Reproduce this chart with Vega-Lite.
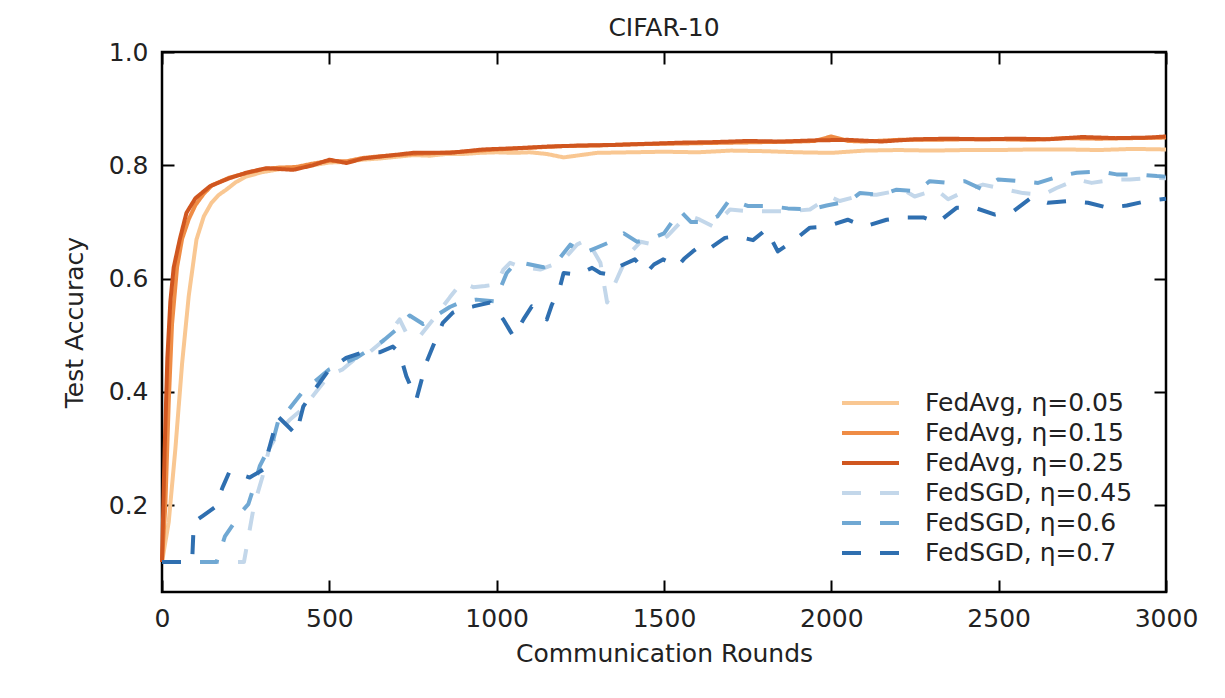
{
  "$schema": "https://vega.github.io/schema/vega-lite/v6.json",
  "width": 1004,
  "height": 540,
  "autosize": {"type": "none"},
  "padding": {"left": 162, "top": 52, "right": 59, "bottom": 106},
  "background": "#ffffff",
  "title": {"text": "CIFAR-10", "font": "DejaVu Sans", "fontSize": 25, "fontWeight": "normal", "color": "#222222", "anchor": "middle", "baseline": "alphabetic", "offset": -21},
  "config": {
    "view": {"stroke": "#000000", "strokeWidth": 2.5},
    "axis": {"domain": false, "grid": false, "tickColor": "#000000", "tickWidth": 2, "tickSize": -12, "labelFont": "DejaVu Sans", "labelFontSize": 25, "labelColor": "#222222", "titleFont": "DejaVu Sans", "titleFontSize": 25, "titleFontWeight": "normal", "titleColor": "#222222"},
    "legend": {"orient": "none", "legendX": 678, "legendY": 336, "symbolType": "stroke", "symbolSize": 3249, "symbolStrokeWidth": 4, "labelFont": "DejaVu Sans", "labelFontSize": 25, "labelColor": "#222222", "labelOffset": 24, "labelLimit": 0, "rowPadding": 0, "clipHeight": 30, "padding": 0}
  },
  "data": {"values": [
    {"s":"FedAvg, η=0.05","r":0,"a":0.1},{"s":"FedAvg, η=0.05","r":20,"a":0.17},{"s":"FedAvg, η=0.05","r":40,"a":0.3},{"s":"FedAvg, η=0.05","r":60,"a":0.45},{"s":"FedAvg, η=0.05","r":80,"a":0.57},{"s":"FedAvg, η=0.05","r":103,"a":0.669},{"s":"FedAvg, η=0.05","r":125,"a":0.71},{"s":"FedAvg, η=0.05","r":148,"a":0.734},{"s":"FedAvg, η=0.05","r":170,"a":0.748},{"s":"FedAvg, η=0.05","r":192,"a":0.757},{"s":"FedAvg, η=0.05","r":220,"a":0.77},{"s":"FedAvg, η=0.05","r":250,"a":0.78},{"s":"FedAvg, η=0.05","r":300,"a":0.788},{"s":"FedAvg, η=0.05","r":350,"a":0.793},{"s":"FedAvg, η=0.05","r":400,"a":0.795},{"s":"FedAvg, η=0.05","r":450,"a":0.8},{"s":"FedAvg, η=0.05","r":500,"a":0.805},{"s":"FedAvg, η=0.05","r":550,"a":0.806},{"s":"FedAvg, η=0.05","r":600,"a":0.81},{"s":"FedAvg, η=0.05","r":650,"a":0.812},{"s":"FedAvg, η=0.05","r":700,"a":0.815},{"s":"FedAvg, η=0.05","r":750,"a":0.818},{"s":"FedAvg, η=0.05","r":800,"a":0.817},{"s":"FedAvg, η=0.05","r":850,"a":0.82},{"s":"FedAvg, η=0.05","r":900,"a":0.82},{"s":"FedAvg, η=0.05","r":950,"a":0.822},{"s":"FedAvg, η=0.05","r":1000,"a":0.823},{"s":"FedAvg, η=0.05","r":1050,"a":0.822},{"s":"FedAvg, η=0.05","r":1100,"a":0.823},{"s":"FedAvg, η=0.05","r":1150,"a":0.82},{"s":"FedAvg, η=0.05","r":1200,"a":0.814},{"s":"FedAvg, η=0.05","r":1250,"a":0.818},{"s":"FedAvg, η=0.05","r":1300,"a":0.822},{"s":"FedAvg, η=0.05","r":1400,"a":0.823},{"s":"FedAvg, η=0.05","r":1500,"a":0.824},{"s":"FedAvg, η=0.05","r":1600,"a":0.823},{"s":"FedAvg, η=0.05","r":1700,"a":0.826},{"s":"FedAvg, η=0.05","r":1800,"a":0.825},{"s":"FedAvg, η=0.05","r":1900,"a":0.823},{"s":"FedAvg, η=0.05","r":2000,"a":0.822},{"s":"FedAvg, η=0.05","r":2100,"a":0.826},{"s":"FedAvg, η=0.05","r":2200,"a":0.827},{"s":"FedAvg, η=0.05","r":2300,"a":0.826},{"s":"FedAvg, η=0.05","r":2400,"a":0.827},{"s":"FedAvg, η=0.05","r":2500,"a":0.827},{"s":"FedAvg, η=0.05","r":2600,"a":0.828},{"s":"FedAvg, η=0.05","r":2700,"a":0.828},{"s":"FedAvg, η=0.05","r":2800,"a":0.827},{"s":"FedAvg, η=0.05","r":2900,"a":0.829},{"s":"FedAvg, η=0.05","r":3000,"a":0.828},
    {"s":"FedAvg, η=0.15","r":0,"a":0.1},{"s":"FedAvg, η=0.15","r":10,"a":0.2},{"s":"FedAvg, η=0.15","r":20,"a":0.38},{"s":"FedAvg, η=0.15","r":30,"a":0.52},{"s":"FedAvg, η=0.15","r":45,"a":0.62},{"s":"FedAvg, η=0.15","r":60,"a":0.67},{"s":"FedAvg, η=0.15","r":80,"a":0.705},{"s":"FedAvg, η=0.15","r":100,"a":0.73},{"s":"FedAvg, η=0.15","r":125,"a":0.75},{"s":"FedAvg, η=0.15","r":150,"a":0.765},{"s":"FedAvg, η=0.15","r":200,"a":0.778},{"s":"FedAvg, η=0.15","r":250,"a":0.786},{"s":"FedAvg, η=0.15","r":300,"a":0.793},{"s":"FedAvg, η=0.15","r":350,"a":0.796},{"s":"FedAvg, η=0.15","r":400,"a":0.797},{"s":"FedAvg, η=0.15","r":450,"a":0.803},{"s":"FedAvg, η=0.15","r":500,"a":0.808},{"s":"FedAvg, η=0.15","r":550,"a":0.807},{"s":"FedAvg, η=0.15","r":600,"a":0.813},{"s":"FedAvg, η=0.15","r":650,"a":0.816},{"s":"FedAvg, η=0.15","r":700,"a":0.818},{"s":"FedAvg, η=0.15","r":750,"a":0.82},{"s":"FedAvg, η=0.15","r":800,"a":0.821},{"s":"FedAvg, η=0.15","r":900,"a":0.824},{"s":"FedAvg, η=0.15","r":1000,"a":0.828},{"s":"FedAvg, η=0.15","r":1100,"a":0.831},{"s":"FedAvg, η=0.15","r":1200,"a":0.834},{"s":"FedAvg, η=0.15","r":1300,"a":0.835},{"s":"FedAvg, η=0.15","r":1400,"a":0.837},{"s":"FedAvg, η=0.15","r":1500,"a":0.838},{"s":"FedAvg, η=0.15","r":1600,"a":0.839},{"s":"FedAvg, η=0.15","r":1700,"a":0.84},{"s":"FedAvg, η=0.15","r":1800,"a":0.841},{"s":"FedAvg, η=0.15","r":1900,"a":0.842},{"s":"FedAvg, η=0.15","r":1950,"a":0.843},{"s":"FedAvg, η=0.15","r":2000,"a":0.851},{"s":"FedAvg, η=0.15","r":2050,"a":0.843},{"s":"FedAvg, η=0.15","r":2100,"a":0.842},{"s":"FedAvg, η=0.15","r":2200,"a":0.845},{"s":"FedAvg, η=0.15","r":2300,"a":0.845},{"s":"FedAvg, η=0.15","r":2400,"a":0.846},{"s":"FedAvg, η=0.15","r":2500,"a":0.846},{"s":"FedAvg, η=0.15","r":2600,"a":0.845},{"s":"FedAvg, η=0.15","r":2700,"a":0.848},{"s":"FedAvg, η=0.15","r":2800,"a":0.847},{"s":"FedAvg, η=0.15","r":2900,"a":0.848},{"s":"FedAvg, η=0.15","r":3000,"a":0.849},
    {"s":"FedAvg, η=0.25","r":0,"a":0.1},{"s":"FedAvg, η=0.25","r":8,"a":0.3},{"s":"FedAvg, η=0.25","r":16,"a":0.46},{"s":"FedAvg, η=0.25","r":25,"a":0.56},{"s":"FedAvg, η=0.25","r":35,"a":0.62},{"s":"FedAvg, η=0.25","r":53,"a":0.669},{"s":"FedAvg, η=0.25","r":73,"a":0.716},{"s":"FedAvg, η=0.25","r":100,"a":0.742},{"s":"FedAvg, η=0.25","r":143,"a":0.763},{"s":"FedAvg, η=0.25","r":200,"a":0.777},{"s":"FedAvg, η=0.25","r":252,"a":0.787},{"s":"FedAvg, η=0.25","r":312,"a":0.795},{"s":"FedAvg, η=0.25","r":392,"a":0.792},{"s":"FedAvg, η=0.25","r":450,"a":0.8},{"s":"FedAvg, η=0.25","r":501,"a":0.81},{"s":"FedAvg, η=0.25","r":551,"a":0.804},{"s":"FedAvg, η=0.25","r":600,"a":0.812},{"s":"FedAvg, η=0.25","r":660,"a":0.816},{"s":"FedAvg, η=0.25","r":750,"a":0.822},{"s":"FedAvg, η=0.25","r":860,"a":0.822},{"s":"FedAvg, η=0.25","r":959,"a":0.828},{"s":"FedAvg, η=0.25","r":1050,"a":0.83},{"s":"FedAvg, η=0.25","r":1150,"a":0.833},{"s":"FedAvg, η=0.25","r":1250,"a":0.835},{"s":"FedAvg, η=0.25","r":1350,"a":0.836},{"s":"FedAvg, η=0.25","r":1450,"a":0.838},{"s":"FedAvg, η=0.25","r":1550,"a":0.84},{"s":"FedAvg, η=0.25","r":1650,"a":0.841},{"s":"FedAvg, η=0.25","r":1750,"a":0.843},{"s":"FedAvg, η=0.25","r":1850,"a":0.842},{"s":"FedAvg, η=0.25","r":1950,"a":0.844},{"s":"FedAvg, η=0.25","r":2050,"a":0.845},{"s":"FedAvg, η=0.25","r":2150,"a":0.842},{"s":"FedAvg, η=0.25","r":2250,"a":0.846},{"s":"FedAvg, η=0.25","r":2350,"a":0.847},{"s":"FedAvg, η=0.25","r":2450,"a":0.846},{"s":"FedAvg, η=0.25","r":2550,"a":0.847},{"s":"FedAvg, η=0.25","r":2650,"a":0.846},{"s":"FedAvg, η=0.25","r":2750,"a":0.85},{"s":"FedAvg, η=0.25","r":2850,"a":0.848},{"s":"FedAvg, η=0.25","r":2950,"a":0.849},{"s":"FedAvg, η=0.25","r":3000,"a":0.851},
    {"s":"FedSGD, η=0.45","r":0,"a":0.1},{"s":"FedSGD, η=0.45","r":100,"a":0.1},{"s":"FedSGD, η=0.45","r":200,"a":0.1},{"s":"FedSGD, η=0.45","r":245,"a":0.1},{"s":"FedSGD, η=0.45","r":260,"a":0.15},{"s":"FedSGD, η=0.45","r":275,"a":0.2},{"s":"FedSGD, η=0.45","r":300,"a":0.25},{"s":"FedSGD, η=0.45","r":320,"a":0.3},{"s":"FedSGD, η=0.45","r":350,"a":0.33},{"s":"FedSGD, η=0.45","r":380,"a":0.35},{"s":"FedSGD, η=0.45","r":420,"a":0.37},{"s":"FedSGD, η=0.45","r":460,"a":0.4},{"s":"FedSGD, η=0.45","r":500,"a":0.43},{"s":"FedSGD, η=0.45","r":540,"a":0.44},{"s":"FedSGD, η=0.45","r":580,"a":0.46},{"s":"FedSGD, η=0.45","r":620,"a":0.47},{"s":"FedSGD, η=0.45","r":660,"a":0.49},{"s":"FedSGD, η=0.45","r":710,"a":0.528},{"s":"FedSGD, η=0.45","r":735,"a":0.498},{"s":"FedSGD, η=0.45","r":770,"a":0.498},{"s":"FedSGD, η=0.45","r":810,"a":0.528},{"s":"FedSGD, η=0.45","r":860,"a":0.567},{"s":"FedSGD, η=0.45","r":895,"a":0.593},{"s":"FedSGD, η=0.45","r":930,"a":0.585},{"s":"FedSGD, η=0.45","r":965,"a":0.587},{"s":"FedSGD, η=0.45","r":1000,"a":0.59},{"s":"FedSGD, η=0.45","r":1020,"a":0.616},{"s":"FedSGD, η=0.45","r":1040,"a":0.628},{"s":"FedSGD, η=0.45","r":1065,"a":0.622},{"s":"FedSGD, η=0.45","r":1130,"a":0.616},{"s":"FedSGD, η=0.45","r":1170,"a":0.625},{"s":"FedSGD, η=0.45","r":1210,"a":0.64},{"s":"FedSGD, η=0.45","r":1240,"a":0.66},{"s":"FedSGD, η=0.45","r":1270,"a":0.669},{"s":"FedSGD, η=0.45","r":1310,"a":0.628},{"s":"FedSGD, η=0.45","r":1330,"a":0.558},{"s":"FedSGD, η=0.45","r":1350,"a":0.587},{"s":"FedSGD, η=0.45","r":1390,"a":0.64},{"s":"FedSGD, η=0.45","r":1430,"a":0.665},{"s":"FedSGD, η=0.45","r":1470,"a":0.66},{"s":"FedSGD, η=0.45","r":1510,"a":0.675},{"s":"FedSGD, η=0.45","r":1550,"a":0.7},{"s":"FedSGD, η=0.45","r":1580,"a":0.71},{"s":"FedSGD, η=0.45","r":1607,"a":0.704},{"s":"FedSGD, η=0.45","r":1647,"a":0.692},{"s":"FedSGD, η=0.45","r":1697,"a":0.722},{"s":"FedSGD, η=0.45","r":1756,"a":0.719},{"s":"FedSGD, η=0.45","r":1816,"a":0.719},{"s":"FedSGD, η=0.45","r":1876,"a":0.719},{"s":"FedSGD, η=0.45","r":1936,"a":0.722},{"s":"FedSGD, η=0.45","r":1995,"a":0.745},{"s":"FedSGD, η=0.45","r":2025,"a":0.737},{"s":"FedSGD, η=0.45","r":2094,"a":0.748},{"s":"FedSGD, η=0.45","r":2135,"a":0.748},{"s":"FedSGD, η=0.45","r":2214,"a":0.757},{"s":"FedSGD, η=0.45","r":2249,"a":0.745},{"s":"FedSGD, η=0.45","r":2314,"a":0.757},{"s":"FedSGD, η=0.45","r":2349,"a":0.74},{"s":"FedSGD, η=0.45","r":2408,"a":0.757},{"s":"FedSGD, η=0.45","r":2453,"a":0.766},{"s":"FedSGD, η=0.45","r":2523,"a":0.757},{"s":"FedSGD, η=0.45","r":2573,"a":0.751},{"s":"FedSGD, η=0.45","r":2633,"a":0.748},{"s":"FedSGD, η=0.45","r":2673,"a":0.76},{"s":"FedSGD, η=0.45","r":2733,"a":0.775},{"s":"FedSGD, η=0.45","r":2778,"a":0.769},{"s":"FedSGD, η=0.45","r":2842,"a":0.775},{"s":"FedSGD, η=0.45","r":2892,"a":0.775},{"s":"FedSGD, η=0.45","r":2961,"a":0.778},{"s":"FedSGD, η=0.45","r":3000,"a":0.777},
    {"s":"FedSGD, η=0.6","r":0,"a":0.1},{"s":"FedSGD, η=0.6","r":100,"a":0.1},{"s":"FedSGD, η=0.6","r":163,"a":0.1},{"s":"FedSGD, η=0.6","r":188,"a":0.145},{"s":"FedSGD, η=0.6","r":217,"a":0.17},{"s":"FedSGD, η=0.6","r":240,"a":0.19},{"s":"FedSGD, η=0.6","r":258,"a":0.202},{"s":"FedSGD, η=0.6","r":272,"a":0.228},{"s":"FedSGD, η=0.6","r":292,"a":0.269},{"s":"FedSGD, η=0.6","r":310,"a":0.29},{"s":"FedSGD, η=0.6","r":330,"a":0.31},{"s":"FedSGD, η=0.6","r":352,"a":0.36},{"s":"FedSGD, η=0.6","r":380,"a":0.37},{"s":"FedSGD, η=0.6","r":420,"a":0.4},{"s":"FedSGD, η=0.6","r":460,"a":0.42},{"s":"FedSGD, η=0.6","r":500,"a":0.44},{"s":"FedSGD, η=0.6","r":540,"a":0.45},{"s":"FedSGD, η=0.6","r":580,"a":0.46},{"s":"FedSGD, η=0.6","r":620,"a":0.475},{"s":"FedSGD, η=0.6","r":660,"a":0.49},{"s":"FedSGD, η=0.6","r":700,"a":0.51},{"s":"FedSGD, η=0.6","r":740,"a":0.535},{"s":"FedSGD, η=0.6","r":780,"a":0.52},{"s":"FedSGD, η=0.6","r":820,"a":0.535},{"s":"FedSGD, η=0.6","r":860,"a":0.55},{"s":"FedSGD, η=0.6","r":900,"a":0.56},{"s":"FedSGD, η=0.6","r":940,"a":0.563},{"s":"FedSGD, η=0.6","r":995,"a":0.56},{"s":"FedSGD, η=0.6","r":1030,"a":0.61},{"s":"FedSGD, η=0.6","r":1060,"a":0.63},{"s":"FedSGD, η=0.6","r":1100,"a":0.625},{"s":"FedSGD, η=0.6","r":1140,"a":0.62},{"s":"FedSGD, η=0.6","r":1180,"a":0.63},{"s":"FedSGD, η=0.6","r":1220,"a":0.66},{"s":"FedSGD, η=0.6","r":1260,"a":0.645},{"s":"FedSGD, η=0.6","r":1300,"a":0.655},{"s":"FedSGD, η=0.6","r":1340,"a":0.665},{"s":"FedSGD, η=0.6","r":1380,"a":0.68},{"s":"FedSGD, η=0.6","r":1420,"a":0.665},{"s":"FedSGD, η=0.6","r":1460,"a":0.67},{"s":"FedSGD, η=0.6","r":1500,"a":0.68},{"s":"FedSGD, η=0.6","r":1548,"a":0.72},{"s":"FedSGD, η=0.6","r":1580,"a":0.7},{"s":"FedSGD, η=0.6","r":1620,"a":0.7},{"s":"FedSGD, η=0.6","r":1660,"a":0.71},{"s":"FedSGD, η=0.6","r":1697,"a":0.74},{"s":"FedSGD, η=0.6","r":1752,"a":0.728},{"s":"FedSGD, η=0.6","r":1816,"a":0.728},{"s":"FedSGD, η=0.6","r":1870,"a":0.724},{"s":"FedSGD, η=0.6","r":1936,"a":0.722},{"s":"FedSGD, η=0.6","r":1986,"a":0.729},{"s":"FedSGD, η=0.6","r":2055,"a":0.737},{"s":"FedSGD, η=0.6","r":2085,"a":0.751},{"s":"FedSGD, η=0.6","r":2150,"a":0.748},{"s":"FedSGD, η=0.6","r":2195,"a":0.757},{"s":"FedSGD, η=0.6","r":2255,"a":0.754},{"s":"FedSGD, η=0.6","r":2294,"a":0.772},{"s":"FedSGD, η=0.6","r":2349,"a":0.769},{"s":"FedSGD, η=0.6","r":2399,"a":0.772},{"s":"FedSGD, η=0.6","r":2453,"a":0.757},{"s":"FedSGD, η=0.6","r":2498,"a":0.775},{"s":"FedSGD, η=0.6","r":2568,"a":0.772},{"s":"FedSGD, η=0.6","r":2618,"a":0.769},{"s":"FedSGD, η=0.6","r":2683,"a":0.781},{"s":"FedSGD, η=0.6","r":2733,"a":0.787},{"s":"FedSGD, η=0.6","r":2803,"a":0.789},{"s":"FedSGD, η=0.6","r":2852,"a":0.784},{"s":"FedSGD, η=0.6","r":2916,"a":0.784},{"s":"FedSGD, η=0.6","r":2973,"a":0.781},{"s":"FedSGD, η=0.6","r":3000,"a":0.78},
    {"s":"FedSGD, η=0.7","r":0,"a":0.1},{"s":"FedSGD, η=0.7","r":50,"a":0.1},{"s":"FedSGD, η=0.7","r":90,"a":0.1},{"s":"FedSGD, η=0.7","r":95,"a":0.17},{"s":"FedSGD, η=0.7","r":121,"a":0.181},{"s":"FedSGD, η=0.7","r":157,"a":0.196},{"s":"FedSGD, η=0.7","r":182,"a":0.233},{"s":"FedSGD, η=0.7","r":202,"a":0.26},{"s":"FedSGD, η=0.7","r":230,"a":0.255},{"s":"FedSGD, η=0.7","r":262,"a":0.249},{"s":"FedSGD, η=0.7","r":302,"a":0.263},{"s":"FedSGD, η=0.7","r":322,"a":0.304},{"s":"FedSGD, η=0.7","r":346,"a":0.357},{"s":"FedSGD, η=0.7","r":377,"a":0.339},{"s":"FedSGD, η=0.7","r":401,"a":0.325},{"s":"FedSGD, η=0.7","r":422,"a":0.374},{"s":"FedSGD, η=0.7","r":451,"a":0.4},{"s":"FedSGD, η=0.7","r":500,"a":0.44},{"s":"FedSGD, η=0.7","r":550,"a":0.46},{"s":"FedSGD, η=0.7","r":600,"a":0.47},{"s":"FedSGD, η=0.7","r":650,"a":0.47},{"s":"FedSGD, η=0.7","r":690,"a":0.48},{"s":"FedSGD, η=0.7","r":710,"a":0.469},{"s":"FedSGD, η=0.7","r":730,"a":0.428},{"s":"FedSGD, η=0.7","r":760,"a":0.387},{"s":"FedSGD, η=0.7","r":790,"a":0.452},{"s":"FedSGD, η=0.7","r":810,"a":0.481},{"s":"FedSGD, η=0.7","r":839,"a":0.522},{"s":"FedSGD, η=0.7","r":869,"a":0.54},{"s":"FedSGD, η=0.7","r":900,"a":0.548},{"s":"FedSGD, η=0.7","r":930,"a":0.551},{"s":"FedSGD, η=0.7","r":980,"a":0.558},{"s":"FedSGD, η=0.7","r":1020,"a":0.528},{"s":"FedSGD, η=0.7","r":1050,"a":0.498},{"s":"FedSGD, η=0.7","r":1080,"a":0.528},{"s":"FedSGD, η=0.7","r":1105,"a":0.551},{"s":"FedSGD, η=0.7","r":1130,"a":0.54},{"s":"FedSGD, η=0.7","r":1150,"a":0.528},{"s":"FedSGD, η=0.7","r":1165,"a":0.554},{"s":"FedSGD, η=0.7","r":1190,"a":0.587},{"s":"FedSGD, η=0.7","r":1200,"a":0.61},{"s":"FedSGD, η=0.7","r":1240,"a":0.607},{"s":"FedSGD, η=0.7","r":1285,"a":0.619},{"s":"FedSGD, η=0.7","r":1310,"a":0.61},{"s":"FedSGD, η=0.7","r":1338,"a":0.607},{"s":"FedSGD, η=0.7","r":1368,"a":0.622},{"s":"FedSGD, η=0.7","r":1413,"a":0.634},{"s":"FedSGD, η=0.7","r":1448,"a":0.611},{"s":"FedSGD, η=0.7","r":1470,"a":0.625},{"s":"FedSGD, η=0.7","r":1497,"a":0.634},{"s":"FedSGD, η=0.7","r":1541,"a":0.622},{"s":"FedSGD, η=0.7","r":1560,"a":0.635},{"s":"FedSGD, η=0.7","r":1586,"a":0.648},{"s":"FedSGD, η=0.7","r":1607,"a":0.657},{"s":"FedSGD, η=0.7","r":1631,"a":0.651},{"s":"FedSGD, η=0.7","r":1682,"a":0.672},{"s":"FedSGD, η=0.7","r":1717,"a":0.675},{"s":"FedSGD, η=0.7","r":1766,"a":0.668},{"s":"FedSGD, η=0.7","r":1806,"a":0.687},{"s":"FedSGD, η=0.7","r":1840,"a":0.648},{"s":"FedSGD, η=0.7","r":1885,"a":0.666},{"s":"FedSGD, η=0.7","r":1936,"a":0.69},{"s":"FedSGD, η=0.7","r":1986,"a":0.692},{"s":"FedSGD, η=0.7","r":2049,"a":0.704},{"s":"FedSGD, η=0.7","r":2100,"a":0.692},{"s":"FedSGD, η=0.7","r":2165,"a":0.704},{"s":"FedSGD, η=0.7","r":2214,"a":0.708},{"s":"FedSGD, η=0.7","r":2275,"a":0.708},{"s":"FedSGD, η=0.7","r":2318,"a":0.699},{"s":"FedSGD, η=0.7","r":2374,"a":0.725},{"s":"FedSGD, η=0.7","r":2429,"a":0.725},{"s":"FedSGD, η=0.7","r":2489,"a":0.713},{"s":"FedSGD, η=0.7","r":2544,"a":0.719},{"s":"FedSGD, η=0.7","r":2598,"a":0.743},{"s":"FedSGD, η=0.7","r":2647,"a":0.734},{"s":"FedSGD, η=0.7","r":2713,"a":0.737},{"s":"FedSGD, η=0.7","r":2767,"a":0.734},{"s":"FedSGD, η=0.7","r":2827,"a":0.725},{"s":"FedSGD, η=0.7","r":2883,"a":0.729},{"s":"FedSGD, η=0.7","r":2943,"a":0.737},{"s":"FedSGD, η=0.7","r":3000,"a":0.741}
  ]},
  "resolve": {"axis": {"x": "independent", "y": "independent"}},
  "layer": [
    {
      "mark": {"type": "line", "strokeWidth": 4, "strokeCap": "butt", "strokeJoin": "round", "interpolate": "linear"},
      "encoding": {
        "x": {"field": "r", "type": "quantitative", "scale": {"domain": [0, 3000], "nice": false, "zero": false},
              "axis": {"orient": "bottom", "title": "Communication Rounds", "values": [0, 500, 1000, 1500, 2000, 2500, 3000], "format": "d", "labelPadding": 26, "titlePadding": 10, "labelFlush": false}},
        "y": {"field": "a", "type": "quantitative", "scale": {"domain": [0.047, 1.0], "nice": false, "zero": false},
              "axis": {"orient": "left", "title": "Test Accuracy", "values": [0.2, 0.4, 0.6, 0.8, 1.0], "format": ".1f", "labelPadding": 26, "titlePadding": 21, "labelFlush": false}},
        "color": {"field": "s", "type": "nominal", "title": null,
                  "scale": {"domain": ["FedAvg, η=0.05", "FedAvg, η=0.15", "FedAvg, η=0.25", "FedSGD, η=0.45", "FedSGD, η=0.6", "FedSGD, η=0.7"],
                            "range": ["#f9c792", "#ef8c45", "#d0561f", "#c3d7ea", "#70a8d3", "#2f6fb0"]}},
        "strokeDash": {"field": "s", "type": "nominal", "title": null,
                  "scale": {"domain": ["FedAvg, η=0.05", "FedAvg, η=0.15", "FedAvg, η=0.25", "FedSGD, η=0.45", "FedSGD, η=0.6", "FedSGD, η=0.7"],
                            "range": [[1, 0], [1, 0], [1, 0], [19, 19], [19, 19], [19, 19]]}}
      }
    },
    {
      "mark": {"type": "line", "opacity": 0},
      "encoding": {
        "x": {"field": "r", "type": "quantitative", "axis": {"orient": "top", "title": null, "labels": false, "values": [0, 500, 1000, 1500, 2000, 2500, 3000]}},
        "y": {"field": "a", "type": "quantitative", "axis": {"orient": "right", "title": null, "labels": false, "values": [0.2, 0.4, 0.6, 0.8, 1.0]}},
        "detail": {"field": "s", "type": "nominal"}
      }
    }
  ]
}
